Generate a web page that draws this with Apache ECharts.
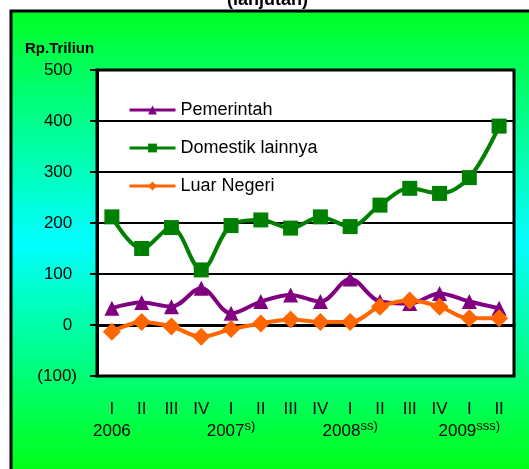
<!DOCTYPE html>
<html>
<head>
<meta charset="utf-8">
<script src="https://cdn.jsdelivr.net/npm/echarts@6/dist/echarts.min.js"></script>
<style>
  html, body { margin: 0; padding: 0; background: #fff; }
  #chart { width: 529px; height: 469px; }
</style>
</head>
<body>
<div id="chart"></div>
<script>
  // quarters 2006 I .. 2009 II
  const quarters = ['I', 'II', 'III', 'IV', 'I', 'II', 'III', 'IV', 'I', 'II', 'III', 'IV', 'I', 'II'];
  const years = ['2006', '2007', '2008', '2009'];
  const yearNotes = ['', 's)', 'ss)', 'sss)'];

  const pemerintah = [33, 44, 36, 72, 23, 46, 59, 46, 90, 46, 42, 62, 46, 33];
  const domestik = [212, 150, 191, 108, 195, 206, 190, 212, 193, 235, 268, 258, 289, 390];
  const luarNegeri = [-13, 6, -3, -23, -8, 3, 11, 6, 6, 36, 48, 36, 13, 13];

  const font = 'Liberation Sans, Arial, sans-serif';
  const chart = echarts.init(document.getElementById('chart'));

  const lineSeries = (name, data, color, symbol, size) => ({
    name,
    type: 'line',
    data,
    smooth: 0.35,
    symbol,
    symbolSize: size,
    showAllSymbol: true,
    itemStyle: { color },
    lineStyle: { color, width: 4 }
  });

  chart.setOption({
    animation: false,
    textStyle: { fontFamily: font },
    graphic: [
      {
        type: 'rect',
        z: -10,
        shape: { x: 11, y: 11, width: 540, height: 462 },
        style: {
          fill: {
            type: 'linear', x: 0, y: 0, x2: 0, y2: 1,
            colorStops: [
              { offset: 0, color: '#00ff22' },
              { offset: 0.5, color: '#00ffff' },
              { offset: 1, color: '#00ff10' }
            ]
          },
          stroke: '#000',
          lineWidth: 3
        }
      },
      {
        type: 'text',
        left: 227, top: -9,
        style: { text: '(lanjutan)', font: 'bold 18px ' + font, fill: '#000' }
      },
      {
        type: 'text',
        left: 25, top: 41,
        style: { text: 'Rp.Triliun', font: 'bold 15px ' + font, fill: '#000' }
      }
    ],
    grid: {
      left: 97, right: 15, top: 70, bottom: 93,
      show: true,
      backgroundColor: '#fff',
      borderColor: '#000',
      borderWidth: 3
    },
    legend: {
      orient: 'vertical',
      left: 123, top: 96,
      itemWidth: 46, itemHeight: 11, itemGap: 20,
      lineStyle: { width: 3 },
      textStyle: { color: '#000', fontSize: 18, fontFamily: font },
      data: ['Pemerintah', 'Domestik lainnya', 'Luar Negeri']
    },
    xAxis: {
      type: 'category',
      data: quarters,
      boundaryGap: true,
      axisLine: { lineStyle: { color: '#000', width: 3 } },
      axisTick: { alignWithLabel: true, length: 5, lineStyle: { color: '#000', width: 2 } },
      axisLabel: {
        interval: 0,
        margin: 22,
        color: '#000',
        formatter: (val, idx) => {
          let s = '{r|' + val + '}';
          if (idx % 4 === 0) {
            const k = idx / 4;
            s += '\n{y|' + years[k] + '}' + (yearNotes[k] ? '{s|' + yearNotes[k] + '}' : '');
          }
          return s;
        },
        rich: {
          r: { fontSize: 17, lineHeight: 22, color: '#000', fontFamily: font },
          y: { fontSize: 17, lineHeight: 22, color: '#000', fontFamily: font },
          s: { fontSize: 13, lineHeight: 22, color: '#000', fontFamily: font, verticalAlign: 'top', padding: [0, 0, 12, 0] }
        }
      }
    },
    yAxis: {
      type: 'value',
      min: -100, max: 500, interval: 100,
      axisLine: { show: true, lineStyle: { color: '#000', width: 3 } },
      axisTick: { show: true, length: 7, lineStyle: { color: '#000', width: 2 } },
      splitLine: { lineStyle: { color: '#000', width: 2 } },
      axisLabel: {
        margin: 20,
        color: '#000',
        fontSize: 17,
        formatter: v => (v < 0 ? '(' + (-v) + ')' : v + ' ')
      }
    },
    series: [
      lineSeries('Pemerintah', pemerintah, '#800080', 'triangle', 15),
      lineSeries('Domestik lainnya', domestik, '#008000', 'rect', 15),
      lineSeries('Luar Negeri', luarNegeri, '#ff6600', 'diamond', 18)
    ]
  });
</script>
</body>
</html>
